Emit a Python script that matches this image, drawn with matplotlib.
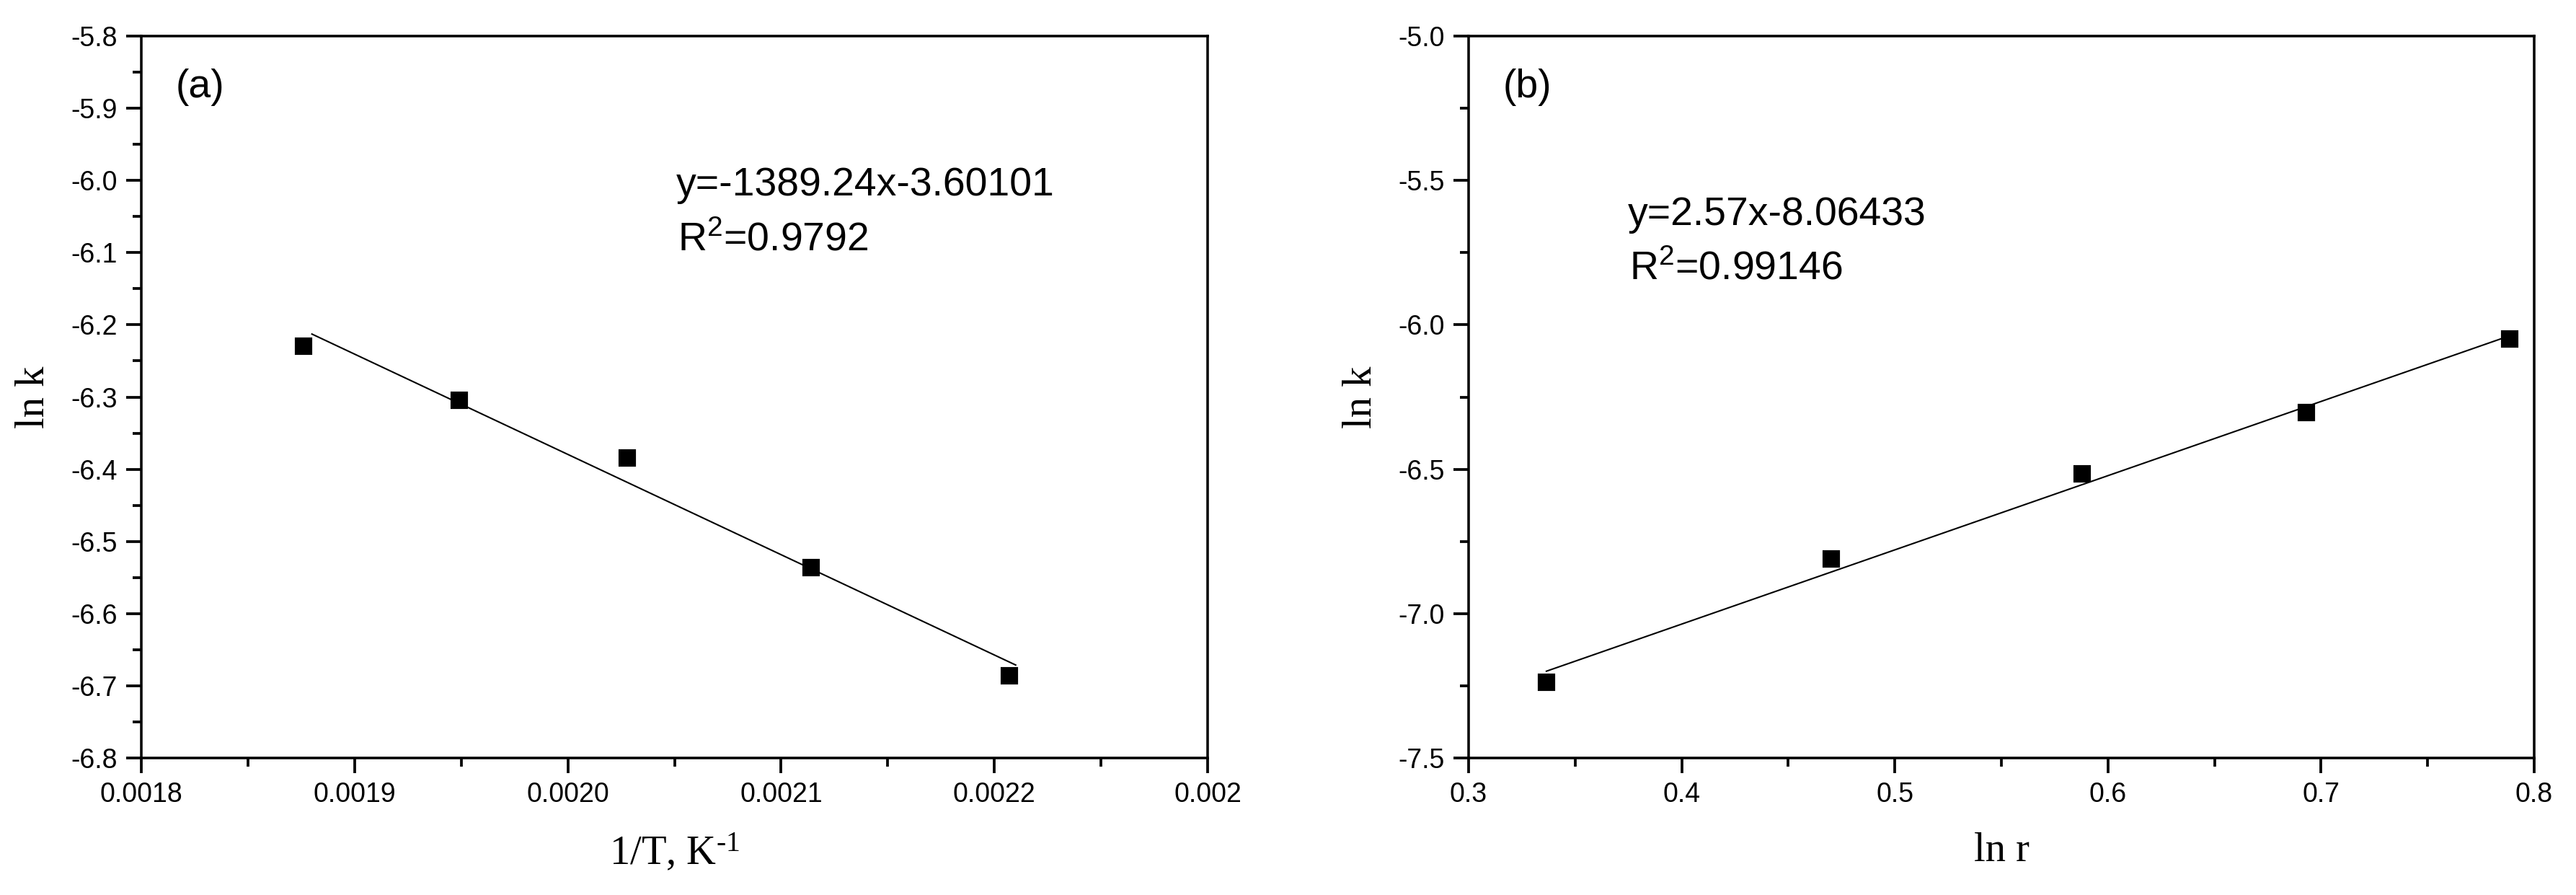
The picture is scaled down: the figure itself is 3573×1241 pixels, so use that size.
import numpy as np
import matplotlib
matplotlib.use("Agg")
import matplotlib.pyplot as plt
from matplotlib.ticker import MultipleLocator, FixedLocator, FixedFormatter

plt.rcParams['axes.unicode_minus'] = False
plt.rcParams['font.family'] = ['Liberation Sans', 'DejaVu Sans']

# ---- data ----
inv_T = [0.001876, 0.001949, 0.002028, 0.002114, 0.002207]
lnk_a = [-6.230, -6.304, -6.384, -6.536, -6.686]
slope_a, icpt_a = -1389.24, -3.60101
eq_a = "y=-1389.24x-3.60101"
r2_a = "0.9792"

ln_r = [0.3365, 0.4700, 0.5878, 0.6931, 0.7885]
lnk_b = [-7.238, -6.811, -6.516, -6.304, -6.049]
slope_b, icpt_b = 2.57, -8.06433
eq_b = "y=2.57x-8.06433"
r2_b = "0.99146"

xticks_a = [0.0018, 0.0019, 0.0020, 0.0021, 0.0022, 0.0023]
xticklabels_a = ["0.0018", "0.0019", "0.0020", "0.0021", "0.0022", "0.002"]

W, H, DPI = 3573, 1241, 300
fig = plt.figure(figsize=(W / DPI, H / DPI), dpi=DPI)

def px_ax(x0, x1, y0, y1):
    return fig.add_axes([x0 / W, 1 - y1 / H, (x1 - x0) / W, (y1 - y0) / H])

axa = px_ax(196, 1675, 50, 1051)
axb = px_ax(2037, 3515, 50, 1051)

tick_fs = 9
lab_fs = 13.6
ann_fs = 13.3
serif = ['Liberation Serif', 'DejaVu Serif']

for ax in (axa, axb):
    for s in ax.spines.values():
        s.set_linewidth(0.85)
    ax.tick_params(which='major', direction='out', length=5, width=0.9,
                   labelsize=tick_fs, pad=3, top=False, right=False)
    ax.tick_params(which='minor', direction='out', length=2.9, width=0.9,
                   top=False, right=False)

marker_kw = dict(marker='s', color='black', markersize=4.8, linestyle='none',
                 zorder=3)

# ---- panel (a) ----
xa = np.array(inv_T)
fx = np.linspace(xa.min() + 0.000004, xa.max() + 0.000003, 50)
axa.plot(fx, slope_a * fx + icpt_a, color='black', lw=0.5)
axa.plot(inv_T, lnk_a, **marker_kw)
axa.set_xlim(0.0018, 0.0023)
axa.set_ylim(-6.8, -5.8)
axa.xaxis.set_major_locator(FixedLocator(xticks_a))
axa.xaxis.set_major_formatter(FixedFormatter(xticklabels_a))
axa.xaxis.set_minor_locator(MultipleLocator(0.00005))
axa.yaxis.set_major_locator(MultipleLocator(0.1))
axa.yaxis.set_minor_locator(MultipleLocator(0.05))
axa.yaxis.set_major_formatter(matplotlib.ticker.FormatStrFormatter('%.1f'))
axa.set_xlabel("1/T, K$\\mathregular{^{\u20101}}$", family=serif, fontsize=lab_fs,
               labelpad=8)
axa.set_ylabel("ln k", family=serif, fontsize=lab_fs, labelpad=6)

def ptext(x, y, s):
    fig.text(x / W, 1 - y / H, s, fontsize=ann_fs, va='baseline', ha='left')

ptext(244, 135, "(a)")
ptext(938, 271, eq_a)
ptext(940, 348, r"R$\mathregular{^2}$=" + r2_a)

# ---- panel (b) ----
xb = np.array(ln_r)
fxb = np.linspace(xb.min(), xb.max(), 50)
axb.plot(fxb, slope_b * fxb + icpt_b, color='black', lw=0.5)
axb.plot(ln_r, lnk_b, **marker_kw)
axb.set_xlim(0.3, 0.8)
axb.set_ylim(-7.5, -5.0)
axb.xaxis.set_major_locator(MultipleLocator(0.1))
axb.xaxis.set_minor_locator(MultipleLocator(0.05))
axb.yaxis.set_major_locator(MultipleLocator(0.5))
axb.yaxis.set_minor_locator(MultipleLocator(0.25))
axb.xaxis.set_major_formatter(matplotlib.ticker.FormatStrFormatter('%.1f'))
axb.yaxis.set_major_formatter(matplotlib.ticker.FormatStrFormatter('%.1f'))
axb.set_xlabel("ln r", family=serif, fontsize=lab_fs, labelpad=8)
axb.set_ylabel("ln k", family=serif, fontsize=lab_fs, labelpad=6)

ptext(2085, 135, "(b)")
ptext(2258, 312, eq_b)
ptext(2260, 388, r"R$\mathregular{^2}$=" + r2_b)

fig.savefig("out.png", dpi=DPI)
